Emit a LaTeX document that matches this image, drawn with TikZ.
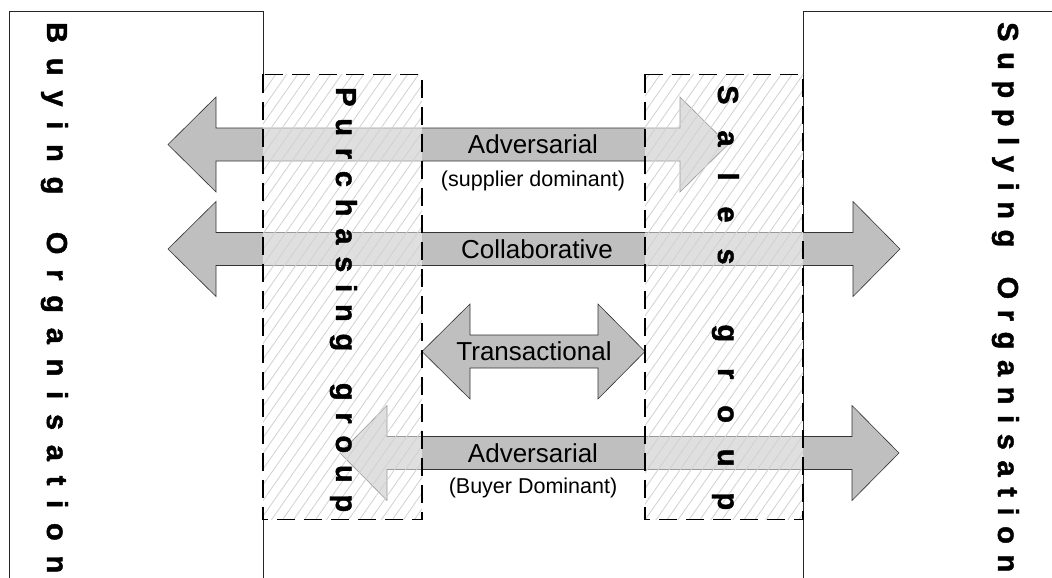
\documentclass[tikz,border=0pt]{standalone}
\usepackage{fontspec}
\setmainfont{Liberation Sans}
\newfontfamily\vfont{Liberation Sans Bold}[FakeBold=1.5]
\usetikzlibrary{patterns.meta}
\newcommand\dblarrow[5]{\draw[arr] (#1,#5) -- (#2,#5-47.5) -- (#2,#5-16.5) -- (#3,#5-16.5) -- (#3,#5-47.5) -- (#4,#5) -- (#3,#5+47.5) -- (#3,#5+16.5) -- (#2,#5+16.5) -- (#2,#5+47.5) -- cycle;}
\begin{document}
\begin{tikzpicture}[x=1pt,y=-1pt,
  box/.style={draw=black!85, line width=0.9pt},
  arr/.style={draw=black!80, fill=black!25, line width=0.6pt},
  grp/.style={draw=black, line width=1.1pt, dash pattern=on 18pt off 9pt},
  hatch/.style={pattern={Lines[angle=55,distance=9pt,line width=0.8pt]}, pattern color=black!18},
  lab/.style={font=\fontsize{26}{28}\selectfont, inner sep=0pt},
  sub/.style={font=\fontsize{21.5}{24}\selectfont, inner sep=0pt},
  vt/.style={font=\vfont\fontsize{29}{31}\selectfont, rotate=-90, anchor=base west, inner sep=0pt}]
\useasboundingbox (0,0) rectangle (1052,578);
\clip (0,0) rectangle (1052,578);
% organisation boxes
\draw[box] (9,590) -- (9,11.5) -- (263,11.5) -- (263,590);
\draw[box] (803,590) -- (803,11.5) -- (1070,11.5);
% group areas (opaque base)
\fill[white] (263,74.5) rectangle (422,519.5);
\fill[white] (645,74.5) rectangle (803,519.5);
% arrows
\dblarrow{168}{216}{680}{728}{144.5}
\dblarrow{168}{216}{853}{900}{249}
\dblarrow{422}{470}{598}{645}{351.5}
\dblarrow{340}{387}{852}{899}{453}
% group overlays
\fill[white, fill opacity=0.5] (263,74.5) rectangle (422,519.5);
\fill[hatch] (263,74.5) rectangle (422,519.5);
\draw[grp] (263,74.5) rectangle (422,519.5);
\fill[white, fill opacity=0.5] (645,74.5) rectangle (803,519.5);
\fill[hatch] (645,74.5) rectangle (803,519.5);
\draw[grp] (645,74.5) rectangle (803,519.5);
% labels
\node[lab] (adv1) at (533,144.5) {Adversarial};
\node[sub] (supd) at (533,181) {(supplier dominant)};
\node[lab] (coll) at (537,249) {Collaborative};
\node[lab] (trans) at (534,351.5) {Transactional};
\node[lab] (adv2) at (533,453) {Adversarial};
\node[sub] (buyd) at (533,488) {(Buyer Dominant)};
% vertical titles
\node[vt] (buying) at (47,22) {\makebox[551pt][s]{B\hfill u\hfill y\hfill i\hfill n\hfill g\hfill\ \hfill O\hfill r\hfill g\hfill a\hfill n\hfill i\hfill s\hfill a\hfill t\hfill i\hfill o\hfill n}};
\node[vt] (supplying) at (998,22) {\makebox[550pt][s]{S\hfill u\hfill p\hfill p\hfill l\hfill y\hfill i\hfill n\hfill g\hfill\ \hfill O\hfill r\hfill g\hfill a\hfill n\hfill i\hfill s\hfill a\hfill t\hfill i\hfill o\hfill n}};
\node[vt] (purch) at (336,87) {\makebox[425pt][s]{P\hfill u\hfill r\hfill c\hfill h\hfill a\hfill s\hfill i\hfill n\hfill g\hfill\ \hfill g\hfill r\hfill o\hfill u\hfill p}};
\node[vt] (sales) at (718,85) {\makebox[425pt][s]{S\hfill a\hfill l\hfill e\hfill s\hfill\ \hfill g\hfill r\hfill o\hfill u\hfill p}};
\end{tikzpicture}
\end{document}
